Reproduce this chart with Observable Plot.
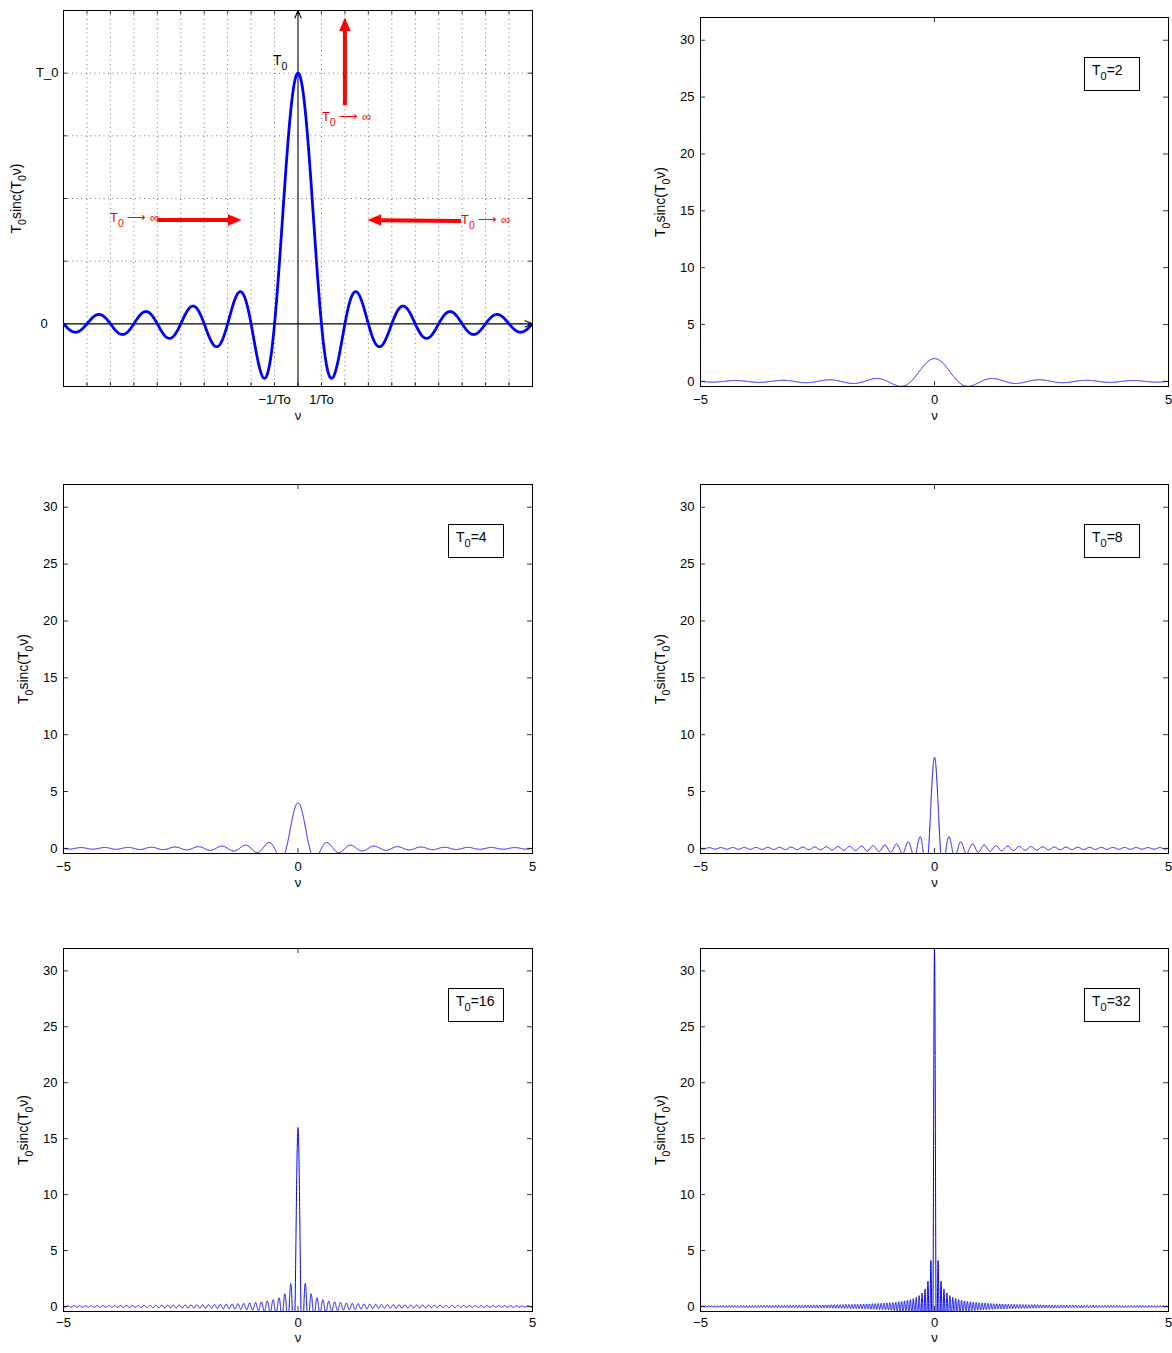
<!DOCTYPE html>
<html>
<head>
<meta charset="utf-8">
<script src="https://cdn.jsdelivr.net/npm/d3@7"></script>
<script src="https://cdn.jsdelivr.net/npm/@observablehq/plot@0.6"></script>
<style>
  body { margin: 0; background: #fff; }
  #page { position: relative; width: 1172px; height: 1353px; overflow: hidden; background: #fff;
          font-family: "Liberation Sans", Arial, Helvetica, sans-serif; }
  .panel { position: absolute; }
  .legend { position: absolute; box-sizing: border-box; width: 56px; height: 34px; border: 1px solid #000;
            background: #fff; font-size: 14px; line-height: 15px; padding: 5px 0 0 7px; color: #000; }
  .legend .sub { font-size: 11px; position: relative; top: 5px; }
</style>
</head>
<body>
<div id="page"></div>
<script>
// ---------------- data ----------------
// Panels 2-6: T0 sinc(T0 nu) for these durations
const T0s = [2, 4, 8, 16, 32];
const legendLabels = ["T₀=2", "T₀=4", "T₀=8", "T₀=16", "T₀=32"];
const nuDomain = [-5, 5];
const nuStep = 0.001;
const yDomain = [-0.45, 32];
const xTicks = [-5, 0, 5];
const yTicks = [0, 5, 10, 15, 20, 25, 30];
const xLabel = "ν";
const yLabel = "T₀sinc(T₀ν)";

// Panel 1: schematic sinc, x in units of 1/T0, y in units of T0
const schemX = [-10, 10];
const schemY = [-0.25, 1.25];
const schemStep = 0.01;
const schemGridX = [-9, -8, -7, -6, -5, -4, -3, -2, -1, 1, 2, 3, 4, 5, 6, 7, 8, 9];
const schemGridY = [0.25, 0.5, 0.75, 1];
const schemTickX = [-9, -8, -7, -6, -5, -4, -3, -2, -1, 0, 1, 2, 3, 4, 5, 6, 7, 8, 9];
const schemTickY = [0, 0.25, 0.5, 0.75, 1];
const schemXTickLabels = [-1, 1];
const schemXTickText = ["−1/To", "1/To"];
const schemYTickLabels = [0, 1];
const schemYTickText = ["0\u00a0\u00a0\u00a0", "T_0"];
const redArrows = [
  {x1: 2.0, y1: 0.872, x2: 2.0, y2: 1.22},
  {x1: -6.0, y1: 0.414, x2: -2.43, y2: 0.414},
  {x1: 6.95, y1: 0.410, x2: 2.99, y2: 0.414}
];
const redLabels = [
  {x: 1.02, y: 0.826, text: "T₀ ⟶ ∞"},
  {x: -8.02, y: 0.423, text: "T₀ ⟶ ∞"},
  {x: 6.95, y: 0.415, text: "T₀ ⟶ ∞"}
];
const peakLabel = [{x: -1.07, y: 1.049, text: "T₀"}];

// ---------------- helpers ----------------
const NS = "http://www.w3.org/2000/svg";
const FONT = '"Liberation Sans", Arial, Helvetica, sans-serif';
const page = document.getElementById("page");

function sinc(x) { return Math.abs(x) < 1e-12 ? 1 : Math.sin(Math.PI * x) / (Math.PI * x); }

function subscriptify(svg) {
  svg.querySelectorAll("text").forEach(t => {
    const s = t.textContent;
    if (!s.includes("₀") || t.querySelector("tspan")) return;
    t.textContent = "";
    const parts = s.split("₀");
    let shifted = false;
    parts.forEach((p, i) => {
      if (p) {
        const ts = document.createElementNS(NS, "tspan");
        if (shifted) { ts.setAttribute("dy", "-5"); shifted = false; }
        ts.textContent = p;
        t.appendChild(ts);
      }
      if (i < parts.length - 1) {
        const sub = document.createElementNS(NS, "tspan");
        sub.setAttribute("dy", "5");
        sub.setAttribute("font-size", "10.5px");
        sub.textContent = "0";
        t.appendChild(sub);
        shifted = true;
      }
    });
  });
}

function place(svg, left, top) {
  const d = document.createElement("div");
  d.className = "panel";
  d.style.left = left + "px";
  d.style.top = top + "px";
  d.appendChild(svg);
  page.appendChild(d);
}

function boxTicks(xt, yt, innerW, innerH, len = 5) {
  return [
    Plot.tickX(xt, {x: d => d, insetTop: innerH - len, stroke: "#000", strokeWidth: 0.8}),
    Plot.tickX(xt, {x: d => d, insetBottom: innerH - len, stroke: "#000", strokeWidth: 0.8}),
    Plot.tickY(yt, {y: d => d, insetRight: innerW - len, stroke: "#000", strokeWidth: 0.8}),
    Plot.tickY(yt, {y: d => d, insetLeft: innerW - len, stroke: "#000", strokeWidth: 0.8})
  ];
}

const fmt = d => (d < 0 ? "−" + (-d) : String(d));
const baseStyle = {fontFamily: FONT, fontSize: "13px", background: "transparent", color: "#000", overflow: "visible"};

// ---------------- panel 1 ----------------
(function () {
  const g = {width: 586, height: 440, ml: 63, mr: 54, mt: 10, mb: 54};
  const innerW = g.width - g.ml - g.mr, innerH = g.height - g.mt - g.mb;
  const n = Math.round((schemX[1] - schemX[0]) / schemStep);
  const curve = d3.range(n + 1).map(k => { const u = schemX[0] + k * schemStep; return {u, v: sinc(u)}; });
  const axes = [
    {x1: schemX[0], y1: 0, x2: schemX[1], y2: 0},
    {x1: 0, y1: schemY[0], x2: 0, y2: schemY[1]}
  ];
  const svg = Plot.plot({
    width: g.width, height: g.height,
    marginLeft: g.ml, marginRight: g.mr, marginTop: g.mt, marginBottom: g.mb,
    x: {domain: schemX}, y: {domain: schemY},
    style: baseStyle,
    marks: [
      Plot.ruleX(schemGridX, {x: d => d, stroke: "#000", strokeWidth: 0.7, strokeDasharray: "1,3.5", strokeOpacity: 0.8}),
      Plot.ruleY(schemGridY, {y: d => d, stroke: "#000", strokeWidth: 0.7, strokeDasharray: "1,3.5", strokeOpacity: 0.8}),
      ...boxTicks(schemTickX, schemTickY, innerW, innerH, 4),
      Plot.frame({stroke: "#000", strokeWidth: 1}),
      Plot.arrow(axes, {x1: "x1", y1: "y1", x2: "x2", y2: "y2", stroke: "#000", strokeWidth: 1.1, headLength: 11, headAngle: 45}),
      Plot.line(curve, {x: "u", y: "v", stroke: "#0000ff", strokeWidth: 2.8, clip: true}),
      Plot.arrow(redArrows, {x1: "x1", y1: "y1", x2: "x2", y2: "y2", stroke: "#ff0000", strokeWidth: 4, headLength: 0, insetEnd: 9, strokeLinecap: "butt"}),
      Plot.vector(redArrows, {x: "x2", y: "y2", rotate: d => (d.x2 > d.x1 ? 90 : d.x2 < d.x1 ? -90 : 0),
        length: 13, r: 5.5, shape: "spike", anchor: "end", fill: "#ff0000", stroke: "#ff0000", strokeWidth: 0.5}),
      Plot.text(redLabels, {x: "x", y: "y", text: "text", fill: "#ff0000", textAnchor: "start", fontSize: 13}),
      Plot.text(peakLabel, {x: "x", y: "y", text: "text", fill: "#000", textAnchor: "start", fontSize: 14}),
      Plot.axisX({ticks: schemXTickLabels, tickSize: 0, tickPadding: 8, label: null,
        tickFormat: d => schemXTickText[schemXTickLabels.indexOf(d)]}),
      Plot.axisY({ticks: schemYTickLabels, tickSize: 0, tickPadding: 5, label: null,
        tickFormat: d => schemYTickText[schemYTickLabels.indexOf(d)]}),
      Plot.text([xLabel], {frameAnchor: "bottom", dy: 33, text: d => d}),
      Plot.text([yLabel], {frameAnchor: "left", dx: -47, rotate: -90, textAnchor: "middle", fontSize: 14, text: d => d})
    ]
  });
  subscriptify(svg);
  place(svg, 0, 0);
})();

// ---------------- panels 2-6 ----------------
const layout = [
  {left: 637, top: 0,   width: 535, height: 440, ml: 63, mr: 4,  mt: 17, mb: 54, pad: 8, ldy: 33},
  {left: 0,   top: 440, width: 586, height: 466, ml: 63, mr: 54, mt: 44, mb: 53, pad: 8, ldy: 33},
  {left: 637, top: 440, width: 535, height: 466, ml: 63, mr: 4,  mt: 44, mb: 53, pad: 8, ldy: 33},
  {left: 0,   top: 906, width: 586, height: 447, ml: 63, mr: 54, mt: 42, mb: 42, pad: 6, ldy: 30},
  {left: 637, top: 906, width: 535, height: 447, ml: 63, mr: 4,  mt: 42, mb: 42, pad: 6, ldy: 30}
];

T0s.forEach((T0, i) => {
  const g = layout[i];
  const innerW = g.width - g.ml - g.mr, innerH = g.height - g.mt - g.mb;
  const n = Math.round((nuDomain[1] - nuDomain[0]) / nuStep);
  const data = d3.range(n + 1).map(k => { const nu = nuDomain[0] + k * nuStep; return {nu, v: T0 * sinc(T0 * nu)}; });
  const svg = Plot.plot({
    width: g.width, height: g.height,
    marginLeft: g.ml, marginRight: g.mr, marginTop: g.mt, marginBottom: g.mb,
    x: {domain: nuDomain}, y: {domain: yDomain},
    style: baseStyle,
    marks: [
      Plot.line(data, {x: "nu", y: "v", stroke: "#0000ff", strokeWidth: 1, clip: true}),
      ...boxTicks(xTicks, yTicks, innerW, innerH),
      Plot.frame({stroke: "#000", strokeWidth: 1}),
      Plot.axisX({ticks: xTicks, tickSize: 0, tickPadding: g.pad, tickFormat: fmt, label: null}),
      Plot.axisY({ticks: yTicks, tickSize: 0, tickPadding: 6, tickFormat: fmt, label: null}),
      Plot.text([xLabel], {frameAnchor: "bottom", dy: g.ldy, text: d => d}),
      Plot.text([yLabel], {frameAnchor: "left", dx: -40, rotate: -90, textAnchor: "middle", fontSize: 14, text: d => d})
    ]
  });
  subscriptify(svg);
  place(svg, g.left, g.top);

  const lg = document.createElement("div");
  lg.className = "legend";
  lg.style.left = (g.left + g.width - g.mr - 84) + "px";
  lg.style.top = (g.top + g.mt + 40) + "px";
  const parts = legendLabels[i].split("₀");
  lg.innerHTML = parts[0] + '<span class="sub">0</span>' + parts[1];
  page.appendChild(lg);
});
</script>
</body>
</html>
